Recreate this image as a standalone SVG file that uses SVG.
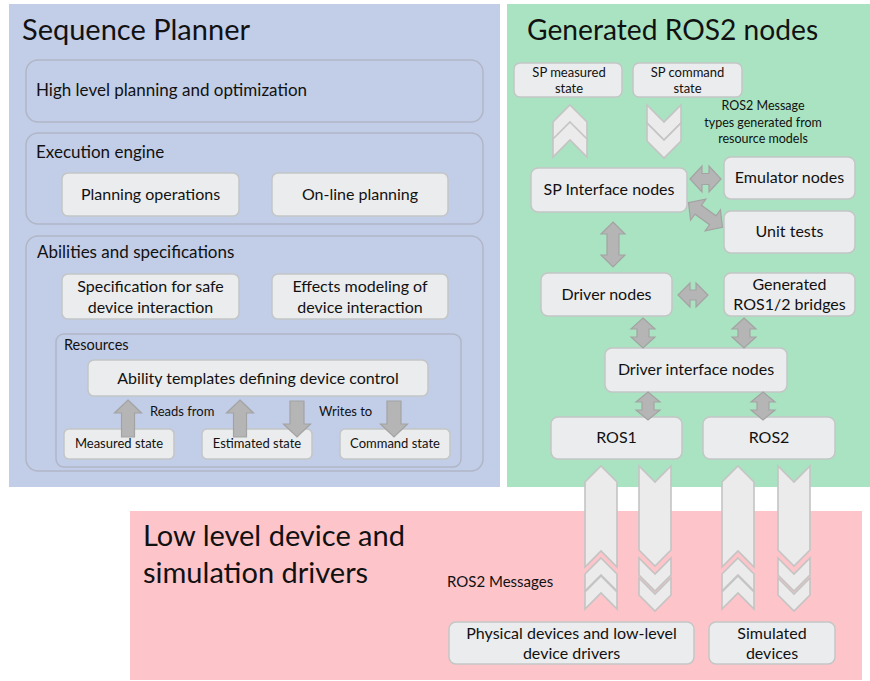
<svg xmlns="http://www.w3.org/2000/svg" width="870" height="681" viewBox="0 0 870 681">
<style>
text{font-family:Lato,"Noto Sans","DejaVu Sans",sans-serif;fill:#111}
.title{font-size:29px}
.cont{fill:none;stroke:#b1b6c6;stroke-width:1.5}
.box{fill:#ebeced;stroke:#c4c6c6;stroke-width:1.5}
.t17{font-size:17px}
.t15{font-size:16px}
.t13{font-size:14.5px}
.t12{font-size:13px}
.tm{font-size:12.5px}
.mid{text-anchor:middle}
.arr{fill:#b5b5b5;stroke:#a3a3a3;stroke-width:1.2}
.chev{fill:#ebebeb;stroke:#c4c4c4;stroke-width:1.6}
</style>
<defs>
<path id="chevUpSmall" d="M0,0 L17,17 L17,35 L0,18 L-17,35 L-17,17 Z"/>
<path id="chevDnSmall" d="M-17,0 L0,17 L17,0 L17,18 L0,35 L-17,18 Z"/>
<path id="chevUp" d="M0,0 L16,16 L16,33 L0,17 L-16,33 L-16,16 Z"/>
<path id="chevDn" d="M-16,0 L0,16 L16,0 L16,17 L0,33 L-16,17 Z"/>
</defs>

<!-- panels -->
<rect id="panel-sp" x="9" y="4" width="491" height="483" fill="#c2cde8"/>
<rect id="panel-ros2" x="507" y="4" width="363" height="483" fill="#aae3c1"/>
<rect id="panel-low" x="130" y="511" width="732" height="169" fill="#fdc5c9"/>

<text class="title" x="22" y="40">Sequence Planner</text>
<text class="title" x="527" y="40" style="font-size:28.2px">Generated ROS2 nodes</text>
<text class="title" x="143" y="546">Low level device and</text>
<text class="title" x="143" y="583">simulation drivers</text>

<!-- Sequence planner containers -->
<g id="high-level">
<rect class="cont" x="26" y="60" width="457" height="62" rx="12"/>
<text class="t17" x="36" y="96">High level planning and optimization</text>
</g>
<g id="execution-engine">
<rect class="cont" x="26" y="133" width="457" height="91" rx="12"/>
<text class="t17" x="36" y="158">Execution engine</text>
</g>
<g id="planning-operations">
<rect class="box" x="62" y="173" width="177" height="43" rx="6"/>
<text class="t15 mid" x="150.5" y="200">Planning operations</text>
</g>
<g id="online-planning">
<rect class="box" x="272" y="173" width="176" height="43" rx="6"/>
<text class="t15 mid" x="360" y="200">On-line planning</text>
</g>
<g id="abilities">
<rect class="cont" x="26" y="236" width="457" height="235" rx="12"/>
<text class="t17" x="37" y="258">Abilities and specifications</text>
</g>
<g id="spec-safe">
<rect class="box" x="62" y="274" width="177" height="45" rx="6"/>
<text class="t15 mid" x="150.5" y="292">Specification for safe</text>
<text class="t15 mid" x="150.5" y="313">device interaction</text>
</g>
<g id="effects-modeling">
<rect class="box" x="272" y="274" width="176" height="45" rx="6"/>
<text class="t15 mid" x="360" y="292">Effects modeling of</text>
<text class="t15 mid" x="360" y="313">device interaction</text>
</g>
<g id="resources">
<rect class="cont" x="56" y="334" width="405" height="133" rx="8"/>
<text class="t13" x="64" y="350">Resources</text>
</g>
<g id="ability-templates">
<rect class="box" x="88" y="360" width="340" height="36" rx="6"/>
<text class="t15 mid" x="258" y="384">Ability templates defining device control</text>
</g>
<g id="measured-state">
<rect class="box" x="64" y="429" width="110" height="30" rx="5"/>
<text class="t12 mid" x="119" y="448">Measured state</text>
</g>
<g id="estimated-state">
<rect class="box" x="202" y="429" width="110" height="30" rx="5"/>
<text class="t12 mid" x="257" y="448">Estimated state</text>
</g>
<g id="command-state">
<rect class="box" x="340" y="429" width="110" height="30" rx="5"/>
<text class="t12 mid" x="395" y="448">Command state</text>
</g>
<text class="t12" x="150" y="416">Reads from</text>
<text class="t12" x="319" y="416">Writes to</text>

<!-- ROS2 nodes -->
<g id="sp-measured-state">
<rect class="box" x="514" y="63" width="108" height="34" rx="6"/>
<text class="t12 mid" x="569" y="77">SP measured</text>
<text class="t12 mid" x="569" y="93">state</text>
</g>
<g id="sp-command-state">
<rect class="box" x="633" y="63" width="109" height="34" rx="6"/>
<text class="t12 mid" x="687.5" y="77">SP command</text>
<text class="t12 mid" x="687.5" y="93">state</text>
</g>
<text class="tm mid" x="763" y="110">ROS2 Message</text>
<text class="tm mid" x="763" y="127">types generated from</text>
<text class="tm mid" x="763" y="143">resource models</text>

<g id="sp-interface-nodes">
<rect class="box" x="531" y="168" width="156" height="44" rx="7"/>
<text class="t15 mid" x="609" y="195">SP Interface nodes</text>
</g>
<g id="emulator-nodes">
<rect class="box" x="724" y="157" width="131" height="42" rx="7"/>
<text class="t15 mid" x="789.5" y="183">Emulator nodes</text>
</g>
<g id="unit-tests">
<rect class="box" x="724" y="211" width="131" height="42" rx="7"/>
<text class="t15 mid" x="789.5" y="237">Unit tests</text>
</g>
<g id="driver-nodes">
<rect class="box" x="541" y="273" width="131" height="43" rx="7"/>
<text class="t15 mid" x="606.5" y="300">Driver nodes</text>
</g>
<g id="ros-bridges">
<rect class="box" x="724" y="273" width="131" height="43" rx="7"/>
<text class="t15 mid" x="789.5" y="290">Generated</text>
<text class="t15 mid" x="789.5" y="310">ROS1/2 bridges</text>
</g>
<g id="driver-interface-nodes">
<rect class="box" x="605" y="348" width="182" height="44" rx="7"/>
<text class="t15 mid" x="696" y="375">Driver interface nodes</text>
</g>
<g id="ros1">
<rect class="box" x="551" y="417" width="131" height="42" rx="7"/>
<text class="t15 mid" x="616.5" y="443">ROS1</text>
</g>
<g id="ros2">
<rect class="box" x="703" y="417" width="132" height="42" rx="7"/>
<text class="t15 mid" x="769" y="443">ROS2</text>
</g>

<!-- Low level -->
<text x="447" y="587" style="font-size:15px">ROS2 Messages</text>
<g id="physical-devices">
<rect class="box" x="449" y="622" width="245" height="42" rx="7"/>
<text class="t15 mid" x="571.5" y="639">Physical devices and low-level</text>
<text class="t15 mid" x="571.5" y="659">device drivers</text>
</g>
<g id="simulated-devices">
<rect class="box" x="709" y="622" width="126" height="42" rx="7"/>
<text class="t15 mid" x="772" y="639">Simulated</text>
<text class="t15 mid" x="772" y="659">devices</text>
</g>

<!-- connectors -->
<g id="connectors">
<!-- left block arrows -->
<path class="arr" d="M128,400 L141.5,413 L134.5,413 L134.5,437 L121.5,437 L121.5,413 L114.5,413 Z"/>
<path class="arr" d="M240,400 L253.5,413 L246.5,413 L246.5,437 L233.5,437 L233.5,413 L226.5,413 Z"/>
<path class="arr" d="M290,401 L304,401 L304,424 L310.5,424 L297,437 L283.5,424 L290,424 Z"/>
<path class="arr" d="M387,401 L401,401 L401,424 L407.5,424 L394,437 L380.5,424 L387,424 Z"/>

<!-- top chevrons -->
<use href="#chevUpSmall" class="chev" x="570" y="105"/>
<use href="#chevUpSmall" class="chev" x="570" y="122"/>
<use href="#chevDnSmall" class="chev" x="664" y="105"/>
<use href="#chevDnSmall" class="chev" x="664" y="123"/>

<!-- double arrows -->
<path class="arr" d="M690,179 L702,166 L702,173.5 L709,173.5 L709,166 L721,179 L709,192 L709,184.5 L702,184.5 L702,192 Z"/>
<path class="arr" transform="translate(705.5,215) rotate(36)" d="M-21,0 L-9,-13 L-9,-5.5 L9,-5.5 L9,-13 L21,0 L9,13 L9,5.5 L-9,5.5 L-9,13 Z"/>
<path class="arr" d="M613,222 L625,234 L619,234 L619,255 L625,255 L613,267 L601,255 L607,255 L607,234 L601,234 Z"/>
<path class="arr" d="M678,295 L690,283 L690,290 L696,290 L696,283 L708,295 L696,307 L696,300 L690,300 L690,307 Z"/>
<path class="arr" d="M643,318 L655,329 L649,329 L649,337 L655,337 L643,348 L631,337 L637,337 L637,329 L631,329 Z"/>
<path class="arr" d="M744,318 L756,329 L750,329 L750,337 L756,337 L744,348 L732,337 L738,337 L738,329 L732,329 Z"/>
<path class="arr" d="M648,392 L660,402 L654,402 L654,410 L660,410 L648,420 L636,410 L642,410 L642,402 L636,402 Z"/>
<path class="arr" d="M763,392 L775,402 L769,402 L769,410 L775,410 L763,420 L751,410 L757,410 L757,402 L751,402 Z"/>

<!-- big ROS message arrows -->
<path class="chev" d="M601,466 L617,482 L617,567 L601,551 L585,567 L585,482 Z"/>
<use href="#chevUp" class="chev" x="601" y="558"/>
<use href="#chevUp" class="chev" x="601" y="576"/>
<path class="chev" d="M639,466 L655,482 L671,466 L671,550 L655,566 L639,550 Z"/>
<use href="#chevDn" class="chev" x="655" y="558"/>
<use href="#chevDn" class="chev" x="655" y="578"/>
<path class="chev" d="M738,466 L754,482 L754,567 L738,551 L722,567 L722,482 Z"/>
<use href="#chevUp" class="chev" x="738" y="558"/>
<use href="#chevUp" class="chev" x="738" y="576"/>
<path class="chev" d="M778,466 L794,482 L810,466 L810,550 L794,566 L778,550 Z"/>
<use href="#chevDn" class="chev" x="794" y="558"/>
<use href="#chevDn" class="chev" x="794" y="578"/>
</g>
</svg>
